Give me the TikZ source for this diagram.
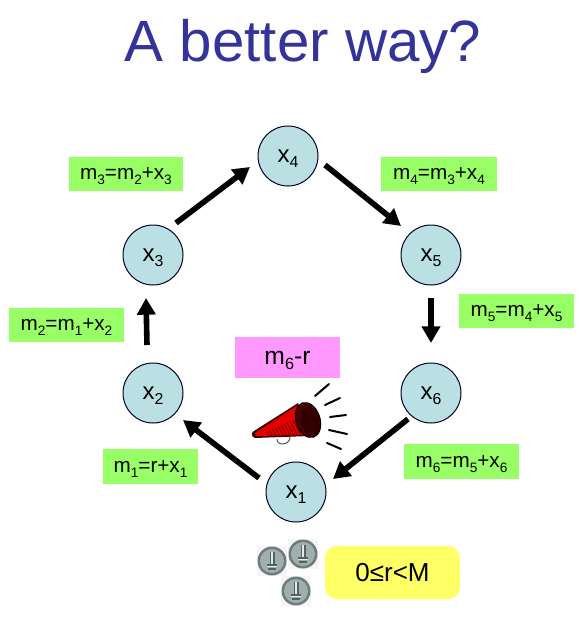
\documentclass[tikz,border=0pt]{standalone}
\usepackage{fontspec}
\setmainfont{Liberation Sans}
\usetikzlibrary{calc,arrows.meta}
\definecolor{nodeblue}{HTML}{BBE0E3}
\definecolor{labgreen}{HTML}{99FF66}
\definecolor{labpink}{HTML}{FF99FF}
\definecolor{labyellow}{HTML}{FFFF66}
\definecolor{titleblue}{HTML}{333399}
\definecolor{coinrim}{HTML}{6F7C7C}
\definecolor{coinface}{HTML}{9FAEAE}
\definecolor{coinmark}{HTML}{E4E9E9}
\definecolor{coinshade}{HTML}{556060}
\newcommand{\lowidx}[1]{\edef\idxsz{\the\dimexpr 0.66\fontdimen6\font\relax}\raisebox{-0.23em}{\fontsize{\idxsz}{\idxsz}\selectfont #1}}
\newcommand{\coinpic}[1]{%
  \fill[black!4] ($(#1)+(-15,-15)$) rectangle ($(#1)+(15,15)$);
  \fill[coinrim] (#1) circle[radius=14.5];
  \fill[coinface] (#1) circle[radius=12];
  \fill[coinshade] ($(#1)+(-2.5,-9)$) rectangle ($(#1)+(2.5,4)$);
  \fill[coinmark] ($(#1)+(-1.2,-9)$) rectangle ($(#1)+(1.2,4)$);
  \fill[coinshade] ($(#1)+(-5,3)$) rectangle ($(#1)+(5,5)$);
  \fill[coinmark] ($(#1)+(-5,5)$) rectangle ($(#1)+(5,6)$);
  \fill[coinshade] ($(#1)+(-4,7)$) rectangle ($(#1)+(4,9)$);
}
\tikzset{
  x=0.75pt,y=-0.75pt,
  varnode/.style={circle,draw=black!85!blue,line width=0.75pt,fill=nodeblue,minimum size=45pt,inner sep=0pt,text depth=0pt,font=\fontsize{18}{20}\selectfont},
  msgbox/.style={fill=labgreen,inner sep=0pt,text depth=0pt,font=\fontsize{15.5}{17}\selectfont},
  arr/.style={line width=4.2pt,-{Triangle[length=12.5pt,width=13.5pt]}},
  ray/.style={line width=1.5pt,line cap=round}
}
\begin{document}
\begin{tikzpicture}
\useasboundingbox (0,0) rectangle (586,628);
\node[text=titleblue,font=\fontsize{43.7}{48}\selectfont,anchor=center] (title) at (303,46) {A better way?};

\node[varnode] (x4) at (288,156) {x\lowidx{4}};
\node[varnode] (x3) at (153,255) {x\lowidx{3}};
\node[varnode] (x5) at (431,255) {x\lowidx{5}};
\node[varnode] (x2) at (153,393) {x\lowidx{2}};
\node[varnode] (x6) at (431,393) {x\lowidx{6}};
\node[varnode] (x1) at (296,492) {x\lowidx{1}};

\draw[arr] ($(x3)+(23,-32)$) -- ($(x4)+(-38,11)$);
\draw[arr] ($(x4)+(37,9)$) -- ($(x5)+(-30,-29)$);
\draw[arr] ($(x5)+(0,43)$) -- ($(x6)+(0,-50)$);
\draw[arr] ($(x6)+(-23,26)$) -- ($(x1)+(37,-13)$);
\draw[arr] ($(x1)+(-37,-14)$) -- ($(x2)+(30,27)$);
\draw[arr] ($(x2)+(-6,-48)$) -- ($(x3)+(-7,43)$);

\node[msgbox,minimum width=85.5pt,minimum height=25.5pt] (m3) at (126,174) {m\lowidx{3}=m\lowidx{2}+x\lowidx{3}};
\node[msgbox,minimum width=87pt,minimum height=25.5pt] (m4) at (439,174) {m\lowidx{4}=m\lowidx{3}+x\lowidx{4}};
\node[msgbox,minimum width=86pt,minimum height=25.5pt] (m5) at (516.5,311) {m\lowidx{5}=m\lowidx{4}+x\lowidx{5}};
\node[msgbox,minimum width=86pt,minimum height=25.5pt] (m2) at (66.5,325) {m\lowidx{2}=m\lowidx{1}+x\lowidx{2}};
\node[msgbox,minimum width=71pt,minimum height=26pt] (m1) at (150.5,466.5) {m\lowidx{1}=r+x\lowidx{1}};
\node[msgbox,minimum width=86pt,minimum height=26pt] (m6) at (461.5,461.5) {m\lowidx{6}=m\lowidx{5}+x\lowidx{6}};
\node[fill=labpink,inner sep=0pt,minimum width=79pt,minimum height=31pt,text depth=0pt,font=\fontsize{18.5}{21}\selectfont] (pub) at (287.5,357.5) {m\lowidx{6}-r};
\node[fill=labyellow,rounded corners=9pt,inner sep=0pt,minimum width=101pt,minimum height=40pt,font=\fontsize{19.5}{21}\selectfont] (range) at (392.5,572.5) {0≤r<M};

% megaphone
\draw[black!70,line width=0.7pt] (277,439) .. controls (276,446) and (291,446) .. (290,436);
\fill[black!75!red] (254,431) -- (298,403) -- (309,436) -- (255,438) .. controls (251,437) and (251,432) .. (254,431) -- cycle;
\fill[red!90!black] (255,433) -- (298,405) -- (307,435) -- (256,436) -- cycle;
\foreach \t in {0.25,0.32,...,0.95}{
  \draw[red!45!black,line width=0.6pt] ($(256,436)!\t!(307,435)$) -- ($(256,436)!\t!(298,418)$);
}
\draw[black,line width=0.8pt,fill=black!70!red] (308,420) ellipse[x radius=12,y radius=18,rotate=18];
\fill[black!80!red] (310,421) ellipse[x radius=9,y radius=15,rotate=18];
\draw[ray] (315,396) -- (329,384);
\draw[ray] (325,405) -- (340,398);
\draw[ray] (330,417) -- (346,415);
\draw[ray] (329,430) -- (347,434);
\draw[ray] (327,443) -- (341,449);

% coins
\coinpic{272,561}
\coinpic{303,554}
\coinpic{296,591}
\end{tikzpicture}
\end{document}
